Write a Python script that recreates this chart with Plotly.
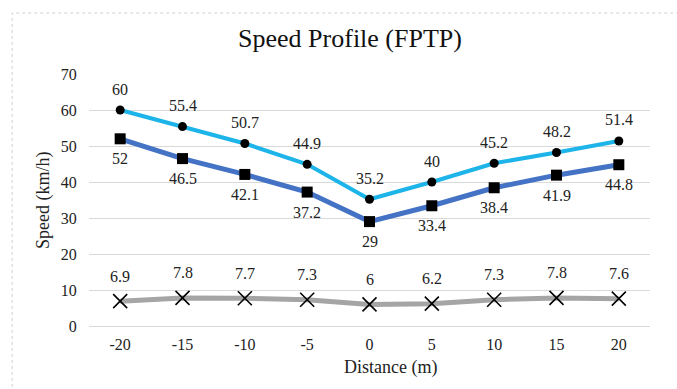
import plotly.graph_objects as go

# Speed profile data (FPTP)
distance = [-20, -15, -10, -5, 0, 5, 10, 15, 20]
speed_upper = [60, 55.4, 50.7, 44.9, 35.2, 40, 45.2, 48.2, 51.4]
speed_lower = [52, 46.5, 42.1, 37.2, 29, 33.4, 38.4, 41.9, 44.8]
speed_diff = [6.9, 7.8, 7.7, 7.3, 6, 6.2, 7.3, 7.8, 7.6]

FONT = "Liberation Serif"
TXT = "#222222"

fig = go.Figure()

fig.add_trace(go.Scatter(
    x=distance, y=speed_diff, mode="lines+markers",
    line=dict(color="#A5A5A5", width=5),
    marker=dict(symbol="x-thin-open", size=14, color="#000000",
                line=dict(color="#1a1a1a", width=1.6)),
    showlegend=False))
fig.add_trace(go.Scatter(
    x=distance, y=speed_lower, mode="lines+markers",
    line=dict(color="#4472C4", width=5),
    marker=dict(symbol="square", size=11, color="#000000"),
    showlegend=False))
fig.add_trace(go.Scatter(
    x=distance, y=speed_upper, mode="lines+markers",
    line=dict(color="#1DB4EA", width=4),
    marker=dict(symbol="circle", size=9, color="#000000"),
    showlegend=False))

label_font = dict(family=FONT, size=16, color=TXT)
annotations = []
for xv, yv in zip(distance, speed_upper):
    annotations.append(dict(x=xv, y=yv, text=f"{yv:g}", showarrow=False,
                            yshift=21, font=label_font))
for xv, yv in zip(distance, speed_lower):
    annotations.append(dict(x=xv, y=yv, text=f"{yv:g}", showarrow=False,
                            yshift=-20, font=label_font))
for xv, yv in zip(distance, speed_diff):
    annotations.append(dict(x=xv, y=yv, text=f"{yv:g}", showarrow=False,
                            yshift=25, font=label_font))

# axis titles
annotations.append(dict(text="Distance (m)", xref="paper", yref="paper",
                        x=0.538, y=-0.165, xanchor="center", yanchor="middle",
                        showarrow=False,
                        font=dict(family=FONT, size=18, color=TXT)))
annotations.append(dict(text="Speed (km/h)", xref="paper", yref="paper",
                        x=-0.082, y=0.5, xanchor="center", yanchor="middle",
                        textangle=-90, showarrow=False,
                        font=dict(family=FONT, size=18, color=TXT)))

fig.update_layout(
    width=677, height=389,
    margin=dict(l=89, r=27, t=74, b=63),
    paper_bgcolor="white", plot_bgcolor="white",
    font=dict(family=FONT, color=TXT),
    title=dict(text="Speed Profile (FPTP)", x=0.517, y=0.902,
               xref="container", yref="container",
               xanchor="center", yanchor="middle",
               font=dict(size=26, color="#111111", family=FONT)),
    annotations=annotations,
    shapes=[dict(type="rect", xref="paper", yref="paper",
                 x0=-0.137, x1=1.1, y0=-0.35, y1=1.242,
                 line=dict(color="#cfcfcf", width=1, dash="dot"),
                 layer="below")],
)

fig.update_xaxes(range=[-22.5, 22.5], tickvals=distance,
                 ticktext=[str(d) for d in distance],
                 showgrid=False, zeroline=False, showline=False,
                 ticks="outside", ticklen=4, tickcolor="rgba(0,0,0,0)",
                 tickfont=dict(family=FONT, size=16, color=TXT))
fig.update_yaxes(range=[0, 70], dtick=10, showgrid=True,
                 gridcolor="#D9D9D9", gridwidth=1,
                 zeroline=True, zerolinecolor="#D9D9D9", zerolinewidth=1,
                 showline=False, ticks="outside", ticklen=8,
                 tickcolor="rgba(0,0,0,0)",
                 tickfont=dict(family=FONT, size=16, color=TXT))

fig.write_html("out.html")
